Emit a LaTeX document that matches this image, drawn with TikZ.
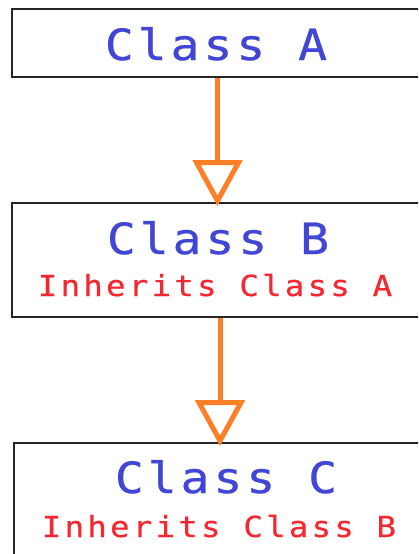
\documentclass[tikz,border=0pt]{standalone}
\usepackage{fontspec}
\usetikzlibrary{arrows.meta}
\newfontfamily\titlefont[FakeStretch=1.12, LetterSpace=9, FakeBold=0.6]{DejaVu Sans Mono}
\newfontfamily\notefont[FakeStretch=1.12, LetterSpace=11, FakeBold=0.5]{DejaVu Sans Mono}
\definecolor{classblue}{RGB}{66,70,214}
\definecolor{notered}{RGB}{245,40,50}
\definecolor{inhorange}{RGB}{255,127,39}
\begin{document}
\begin{tikzpicture}[x=1pt,y=-1pt,
  classbox/.style={draw=black!85, line width=1.7pt, fill=white, inner sep=0pt},
  classname/.style={anchor=base, inner sep=0pt, text=classblue, font=\titlefont\fontsize{43}{43}\selectfont},
  classnote/.style={anchor=base, inner sep=0pt, text=notered, font=\notefont\fontsize{29}{29}\selectfont},
  inherit/.style={draw=inhorange, line width=5pt,
    -{Triangle[open, length=46pt, width=49pt, line width=5pt]}}]
\useasboundingbox (0,0) rectangle (418,554);
\clip (0,0) rectangle (418,554);
\fill[white] (0,0) rectangle (418,554);
% class boxes
\node[classbox, minimum width=411pt, minimum height=68pt] (A) at (217.5,43) {};
\node[classbox, minimum width=416pt, minimum height=114pt] (B) at (220,260) {};
\node[classbox, minimum width=412pt, minimum height=154pt] (C) at (220,520) {};
% labels
\node[classname] (An) at (216,60) {Class A};
\node[classname] (Bn) at (218,254) {Class B};
\node[classnote] (Bi) at (215,296) {Inherits Class A};
\node[classname] (Cn) at (226,493) {Class C};
\node[classnote] (Ci) at (219,537) {Inherits Class B};
% inheritance arrows
\draw[inherit] (A.south) -- ([yshift=-4pt]B.north -| A.south);
\draw[inherit] (B.south) -- ([yshift=-4pt]C.north);
\end{tikzpicture}
\end{document}
